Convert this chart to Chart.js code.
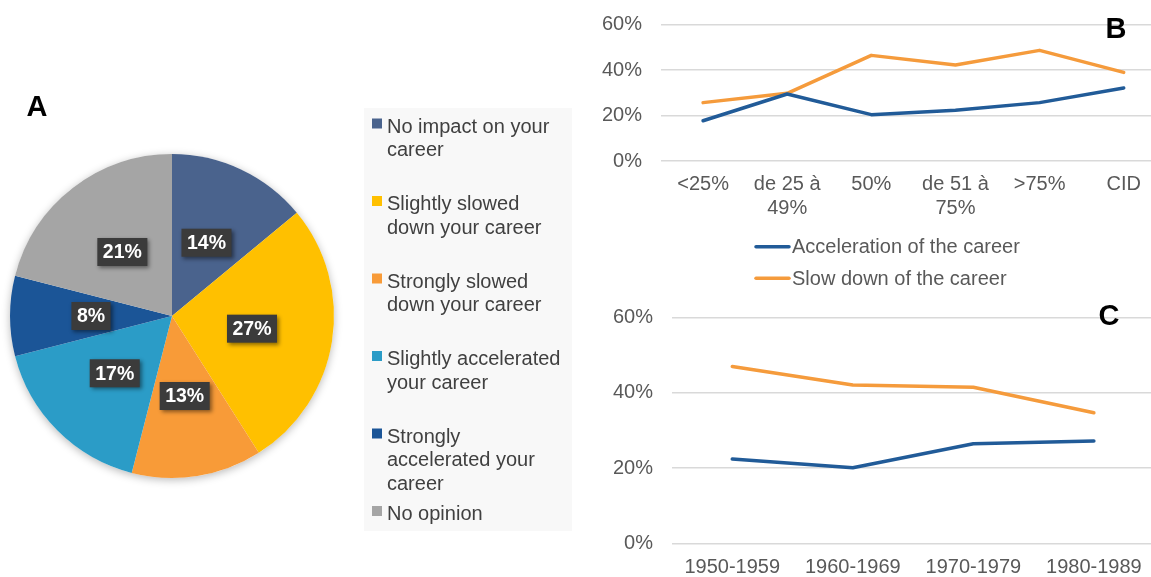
<!DOCTYPE html>
<html><head><meta charset="utf-8">
<script src="https://cdn.jsdelivr.net/npm/chart.js@4/dist/chart.umd.min.js"></script>
<style>
html,body{margin:0;padding:0;background:#fff;width:1151px;height:577px;overflow:hidden;}
canvas{position:absolute;}
</style></head><body>
<canvas id="pie" width="580" height="577" style="left:0;top:0"></canvas>
<canvas id="lb" width="574" height="300" style="left:580px;top:0"></canvas>
<canvas id="lc" width="574" height="287" style="left:580px;top:290px"></canvas>
<script>
// ---------- data ----------
const pieCategories = ["No impact on your\ncareer", "Slightly slowed\ndown your career", "Strongly slowed\ndown your career", "Slightly accelerated\nyour career", "Strongly\naccelerated your\ncareer", "No opinion"];
const pieValues = [14, 27, 13, 17, 8, 21];
const pieColors = ["#4A638D", "#FFC000", "#F89B38", "#2B9CC7", "#1B5597", "#A5A5A5"];

const seriesNames = ["Acceleration of the career", "Slow down of the career"];
const seriesColors = ["#215B98", "#F59B3C"];

const bCategories = ["<25%", "de 25 à\n49%", "50%", "de 51 à\n75%", ">75%", "CID"];
const bAcceleration = [17.7, 29.5, 20.4, 22.3, 25.7, 32.1];
const bSlowDown = [25.7, 29.8, 46.5, 42.3, 48.7, 39.0];

const cCategories = ["1950-1959", "1960-1969", "1970-1979", "1980-1989"];
const cAcceleration = [22.4, 20.1, 26.5, 27.2];
const cSlowDown = [47.0, 42.1, 41.5, 34.7];

const yTickValues = [0, 20, 40, 60];

// ---------- common ----------
const FONT = '"Liberation Sans", Arial, sans-serif';
const TICK_COLOR = '#595959';
const TEXT_SIZE = 20;
Chart.defaults.font.family = FONT;

// ---------- pie ----------
const pieShadow = {
  id: 'pieShadow',
  beforeDatasetsDraw(chart) {
    const arc = chart.getDatasetMeta(0).data[0];
    if (!arc) return;
    const ctx = chart.ctx;
    ctx.save();
    ctx.shadowColor = 'rgba(0,0,0,0.28)';
    ctx.shadowBlur = 9;
    ctx.shadowOffsetY = 2;
    ctx.fillStyle = '#fff';
    ctx.beginPath();
    ctx.arc(arc.x, arc.y, arc.outerRadius, 0, Math.PI * 2);
    ctx.fill();
    ctx.restore();
  }
};
const pieLabels = {
  id: 'pieLabels',
  afterDatasetsDraw(chart) {
    const ctx = chart.ctx;
    const meta = chart.getDatasetMeta(0);
    ctx.save();
    ctx.font = 'bold 19.5px ' + FONT;
    meta.data.forEach((arc, i) => {
      const p = arc.getProps(['x', 'y', 'startAngle', 'endAngle', 'outerRadius'], true);
      const mid = (p.startAngle + p.endAngle) / 2;
      const r = p.outerRadius * 0.5;
      const cx = p.x + Math.cos(mid) * r, cy = p.y + Math.sin(mid) * r;
      const txt = pieValues[i] + '%';
      const w = ctx.measureText(txt).width + 11, h = 28;
      ctx.shadowColor = 'rgba(0,0,0,0.45)';
      ctx.shadowBlur = 4; ctx.shadowOffsetX = 2; ctx.shadowOffsetY = 2;
      ctx.fillStyle = '#3B3B3B';
      ctx.fillRect(cx - w / 2, cy - h / 2, w, h);
      ctx.shadowColor = 'transparent';
      ctx.fillStyle = '#FFFFFF';
      ctx.textAlign = 'center';
      ctx.textBaseline = 'middle';
      ctx.fillText(txt, cx, cy + 1);
    });
    ctx.restore();
  }
};
const pieLegend = {
  id: 'pieLegend',
  afterDraw(chart) {
    const ctx = chart.ctx;
    ctx.save();
    ctx.fillStyle = '#F8F8F8';
    ctx.fillRect(364, 108, 208, 423);
    ctx.font = TEXT_SIZE + 'px ' + FONT;
    ctx.textAlign = 'left';
    ctx.textBaseline = 'alphabetic';
    const ds = chart.data.datasets[0];
    chart.data.labels.forEach((lab, i) => {
      const base = 132.7 + i * 77.5;
      ctx.fillStyle = ds.backgroundColor[i];
      ctx.fillRect(372, base - 14.2, 10, 10);
      ctx.fillStyle = '#404040';
      lab.split('\n').forEach((line, j) => ctx.fillText(line, 387, base + j * 23.4));
    });
    // panel letter
    ctx.fillStyle = '#000';
    ctx.font = 'bold 29px ' + FONT;
    ctx.textAlign = 'center';
    ctx.fillText('A', 37, 115.5);
    ctx.restore();
  }
};

new Chart(document.getElementById('pie'), {
  type: 'pie',
  data: {
    labels: pieCategories,
    datasets: [{ data: pieValues, backgroundColor: pieColors, borderWidth: 0 }]
  },
  options: {
    responsive: false, animation: false,
    layout: { padding: { left: 10, right: 246, top: 154, bottom: 99 } },
    plugins: { legend: { display: false }, tooltip: { enabled: false } }
  },
  plugins: [pieShadow, pieLabels, pieLegend]
});

// ---------- line charts ----------
function letterPlugin(letter, x, y) {
  return {
    id: 'letter' + letter,
    afterDraw(chart) {
      const ctx = chart.ctx;
      ctx.save();
      ctx.fillStyle = '#000';
      ctx.font = 'bold 29px ' + FONT;
      ctx.textAlign = 'center';
      ctx.textBaseline = 'alphabetic';
      ctx.fillText(letter, x, y);
      ctx.restore();
    }
  };
}
const lineLegend = {
  id: 'lineLegend',
  afterDraw(chart) {
    const ctx = chart.ctx;
    ctx.save();
    ctx.font = TEXT_SIZE + 'px ' + FONT;
    ctx.textBaseline = 'middle';
    ctx.textAlign = 'left';
    chart.data.datasets.forEach((ds, i) => {
      const y = 246.7 + i * 31.6;
      ctx.strokeStyle = ds.borderColor;
      ctx.lineWidth = 3.5;
      ctx.lineCap = 'round';
      ctx.beginPath(); ctx.moveTo(176, y); ctx.lineTo(209, y); ctx.stroke();
      ctx.fillStyle = TICK_COLOR;
      ctx.fillText(ds.label, 212, y + 1);
    });
    ctx.restore();
  }
};

function makeLine(id, cats, acc, slow, xMax, cfg, extraPlugins) {
  return new Chart(document.getElementById(id), {
    type: 'line',
    data: {
      datasets: [
        { label: seriesNames[0], data: acc.map((v, i) => ({ x: i, y: v })), borderColor: seriesColors[0] },
        { label: seriesNames[1], data: slow.map((v, i) => ({ x: i, y: v })), borderColor: seriesColors[1] }
      ]
    },
    options: {
      responsive: false, animation: false,
      layout: { padding: { top: cfg.top, left: 0, right: 0, bottom: 0 } },
      elements: {
        line: { borderWidth: 3.5, tension: 0, fill: false, borderCapStyle: 'round', borderJoinStyle: 'round' },
        point: { radius: 0, hoverRadius: 0 }
      },
      plugins: { legend: { display: false }, tooltip: { enabled: false } },
      scales: {
        x: {
          type: 'linear', min: -0.5, max: xMax,
          afterBuildTicks: s => { s.ticks = cats.map((c, i) => ({ value: i })); },
          afterFit: s => { s.height = cfg.xHeight; },
          grid: { display: false, drawTicks: false },
          border: { display: false },
          ticks: {
            autoSkip: false, maxRotation: 0, padding: 12.3,
            color: TICK_COLOR, font: { size: TEXT_SIZE, lineHeight: 1.165 },
            callback: v => (cats[v] !== undefined ? cats[v].split('\n') : '')
          }
        },
        y: {
          min: 0, max: 60,
          afterBuildTicks: s => { s.ticks = yTickValues.map(v => ({ value: v })); },
          afterFit: s => { s.width = cfg.yWidth; },
          grid: { color: '#D9D9D9', lineWidth: 1.5, drawTicks: true, tickLength: 19, tickColor: 'rgba(0,0,0,0)' },
          border: { display: false },
          ticks: { padding: 0, color: TICK_COLOR, font: { size: TEXT_SIZE }, callback: v => v + '%' }
        }
      }
    },
    plugins: extraPlugins
  });
}

makeLine('lb', bCategories, bAcceleration, bSlowDown, 5.36,
  { top: 24.7, xHeight: 139, yWidth: 81 }, [lineLegend, letterPlugin('B', 536, 38.3)]);
makeLine('lc', cCategories, cAcceleration, cSlowDown, 3.49,
  { top: 27.7, xHeight: 33.7, yWidth: 92 }, [letterPlugin('C', 529, 35)]);
</script>
</body></html>
